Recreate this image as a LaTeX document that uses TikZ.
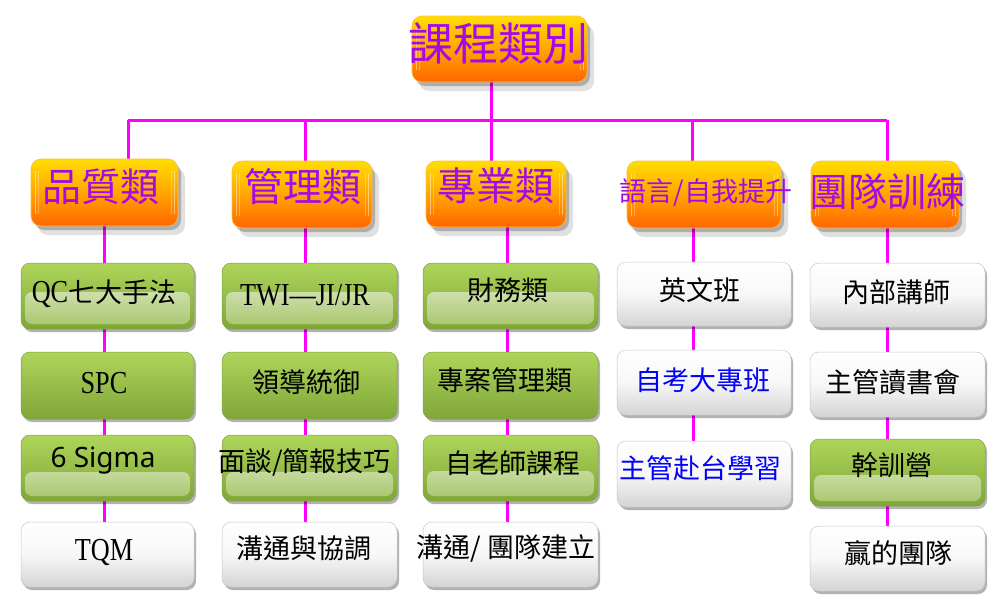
\documentclass[tikz,border=0pt]{standalone}
\usepackage{fontspec}
\setmainfont{Liberation Serif}
\newfontfamily\cjk{Noto Sans CJK TC}
\newfontfamily\segoe{Noto Sans}
\newfontfamily\narrowserif[FakeStretch=0.82]{Liberation Serif}
\usetikzlibrary{shadows,backgrounds}
\definecolor{mag}{RGB}{255,0,255}
\definecolor{purp}{RGB}{165,10,230}
\definecolor{orT}{RGB}{255,222,0}
\definecolor{orM}{RGB}{255,165,0}
\definecolor{orB}{RGB}{255,102,0}
\definecolor{orE}{RGB}{255,190,60}
\definecolor{grT}{RGB}{174,213,90}
\definecolor{grB}{RGB}{128,166,56}
\definecolor{grE}{RGB}{130,160,70}
\definecolor{glT}{RGB}{236,242,224}
\definecolor{glB}{RGB}{166,197,104}
\definecolor{blu}{RGB}{0,0,255}
\tikzset{
  conn/.style={draw=mag, line width=3pt},
  orbox/.style={rounded corners=10pt, draw=orE, line width=.6pt, inner sep=0pt,
    top color=orT, bottom color=orB, middle color=orM,
    drop shadow={shadow xshift=3pt, shadow yshift=-4pt, opacity=.22, fill=black},
    drop shadow={shadow xshift=7pt, shadow yshift=-9pt, opacity=.12, fill=black},
    path picture={
      \foreach \s/\o in {4pt/.45, 7pt/.3}{
        \draw[white, opacity=\o, line width=.8pt]
          ([xshift=\s, yshift=-12pt]path picture bounding box.north west) --
          ([xshift=\s, yshift=12pt]path picture bounding box.south west);
        \draw[white, opacity=\o, line width=.8pt]
          ([xshift=-\s, yshift=-12pt]path picture bounding box.north east) --
          ([xshift=-\s, yshift=12pt]path picture bounding box.south east);
      }}},
  grbox/.style={rounded corners=9pt, draw=grE, line width=.5pt, inner sep=0pt,
    top color=grT, bottom color=grB,
    drop shadow={shadow xshift=2pt, shadow yshift=-3pt, opacity=.3, fill=black}},
  gloss/.style={path picture={
      \shade[rounded corners=7pt, top color=glT, bottom color=glB]
        ([xshift=4pt, yshift=5pt]path picture bounding box.south west) rectangle
        ([xshift=-4pt, yshift=-#1]path picture bounding box.north east);}},
  whbox/.style={rounded corners=9pt, draw=gray!45, line width=.5pt, inner sep=0pt,
    top color=white, bottom color=black!17, middle color=white!97!black,
    drop shadow={shadow xshift=2pt, shadow yshift=-3pt, opacity=.3, fill=black}},
  titletxt/.style={text=purp, inner sep=0pt, font=\cjk\fontsize{45}{46}\selectfont},
  cattxt/.style={text=purp, inner sep=0pt, font=\cjk\fontsize{39}{40}\selectfont},
  smcattxt/.style={text=purp, inner sep=0pt, font=\cjk\fontsize{27}{28}\selectfont},
  itemtxt/.style={inner sep=0pt, font=\narrowserif\fontsize{32}{33}\selectfont},
  citemtxt/.style={inner sep=0pt, font=\cjk\fontsize{27}{28}\selectfont},
}
\begin{document}
\begin{tikzpicture}[x=1pt, y=-1pt]
\useasboundingbox (0,0) rectangle (1005,606);

% title
\node[orbox, minimum width=175, minimum height=66] (top) at (499.5,49) {};
\node[titletxt] (topt) at (498,43) {課程類別};

% categories
\node[orbox, minimum width=147, minimum height=67] (q) at (104.5,192.5) {};
\node[orbox, minimum width=140, minimum height=67] (m) at (302,194.5) {};
\node[orbox, minimum width=140, minimum height=66] (p) at (496,194) {};
\node[orbox, minimum width=154, minimum height=67] (l) at (704,194.5) {};
\node[orbox, minimum width=148, minimum height=67] (t) at (885,194.5) {};
\node[cattxt] (qt) at (100.5,187) {品質類};
\node[cattxt] (mt) at (302.5,187) {管理類};
\node[cattxt] (pt) at (496,186) {專業類};
\node[smcattxt] (lt) at (706,193) {語言/自我提升};
\node[cattxt] (tt) at (887,192) {團隊訓練};

% column 1
\node[grbox, gloss=29pt, minimum width=173, minimum height=66] (q1) at (107.5,296) {};
\node[grbox, minimum width=173, minimum height=67] (q2) at (107.5,385.5) {};
\node[grbox, gloss=37pt, minimum width=173, minimum height=66] (q3) at (107.5,468) {};
\node[whbox, minimum width=173, minimum height=65] (q4) at (107.5,554.5) {};
\node[itemtxt] (q1t) at (104,294) {QC{\cjk\fontsize{27}{28}\selectfont 七大手法}};
\node[itemtxt] (q2t) at (104,383) {SPC};
\node[itemtxt, font=\segoe\fontsize{28}{29}\selectfont] (q3t) at (103,461) {6 Sigma};
\node[itemtxt] (q4t) at (104,552) {TQM};

% column 2
\node[grbox, gloss=29pt, minimum width=175, minimum height=66] (m1) at (309.5,296) {};
\node[grbox, minimum width=175, minimum height=67] (m2) at (309.5,385.5) {};
\node[grbox, gloss=37pt, minimum width=175, minimum height=66] (m3) at (309.5,468) {};
\node[whbox, minimum width=175, minimum height=65] (m4) at (309.5,554.5) {};
\node[itemtxt] (m1t) at (305,295) {TWI—JI/JR};
\node[citemtxt] (m2t) at (306,382) {領導統御};
\node[citemtxt] (m3t) at (304.5,462) {面談/簡報技巧};
\node[citemtxt] (m4t) at (304,548) {溝通與協調};

% column 3
\node[grbox, gloss=29pt, minimum width=175, minimum height=66] (p1) at (510.5,296) {};
\node[grbox, minimum width=175, minimum height=67] (p2) at (510.5,385.5) {};
\node[grbox, gloss=36pt, minimum width=175, minimum height=66] (p3) at (510.5,468) {};
\node[whbox, minimum width=175, minimum height=65] (p4) at (510.5,554.5) {};
\node[citemtxt] (p1t) at (508,290) {財務類};
\node[citemtxt] (p2t) at (505,380) {專案管理類};
\node[citemtxt] (p3t) at (513,463) {自老師課程};
\node[citemtxt] (p4t) at (506,548) {溝通/ 團隊建立};

% column 4
\node[whbox, minimum width=174, minimum height=64] (l1) at (704,294) {};
\node[whbox, minimum width=174, minimum height=65] (l2) at (704,382.5) {};
\node[whbox, minimum width=174, minimum height=66] (l3) at (704,474) {};
\node[citemtxt] (l1t) at (700,290) {英文班};
\node[citemtxt, text=blu] (l2t) at (703,380) {自考大專班};
\node[citemtxt, text=blu] (l3t) at (700,468) {主管赴台學習};

% column 5
\node[whbox, minimum width=175, minimum height=64] (t1) at (897.5,295) {};
\node[whbox, minimum width=175, minimum height=65] (t2) at (897.5,384.5) {};
\node[grbox, gloss=36pt, minimum width=175, minimum height=67] (t3) at (897.5,472.5) {};
\node[whbox, minimum width=175, minimum height=65] (t4) at (897.5,558.5) {};
\node[citemtxt] (t1t) at (896,292) {內部講師};
\node[citemtxt] (t2t) at (893,382) {主管讀書會};
\node[citemtxt] (t3t) at (892,465) {幹訓營};
\node[citemtxt] (t4t) at (898,553) {贏的團隊};

% connectors (behind the boxes)
\begin{scope}[on background layer]
\fill[white] (0,0) rectangle (1005,606);
\coordinate (hub) at (491,120);
\coordinate (h1) at (128,120);
\coordinate (h2) at (305,120);
\coordinate (h3) at (491,120);
\coordinate (h4) at (692,120);
\coordinate (h5) at (887,120);
\coordinate (x1) at (104,0);
\coordinate (x2) at (305,0);
\coordinate (x3) at (507,0);
\coordinate (x4) at (693,0);
\coordinate (x5) at (887,0);
\draw[conn] (hub |- top.south) -- (hub);
\draw[conn] (h1) -- (h5);
\draw[conn] (h1) -- (h1 |- q.north);
\draw[conn] (h2) -- (h2 |- m.north);
\draw[conn] (h3) -- (h3 |- p.north);
\draw[conn] (h4) -- (h4 |- l.north);
\draw[conn] (h5) -- (h5 |- t.north);
\draw[conn] (x1 |- q.south) -- (x1 |- q1.north);
\draw[conn] (x1 |- q1.south) -- (x1 |- q2.north);
\draw[conn] (x1 |- q2.south) -- (x1 |- q3.north);
\draw[conn] (x1 |- q3.south) -- (x1 |- q4.north);
\draw[conn] (x2 |- m.south) -- (x2 |- m1.north);
\draw[conn] (x2 |- m1.south) -- (x2 |- m2.north);
\draw[conn] (x2 |- m2.south) -- (x2 |- m3.north);
\draw[conn] (x2 |- m3.south) -- (x2 |- m4.north);
\draw[conn] (x3 |- p.south) -- (x3 |- p1.north);
\draw[conn] (x3 |- p1.south) -- (x3 |- p2.north);
\draw[conn] (x3 |- p2.south) -- (x3 |- p3.north);
\draw[conn] (x3 |- p3.south) -- (x3 |- p4.north);
\draw[conn] (x4 |- l.south) -- (x4 |- l1.north);
\draw[conn] (x4 |- l1.south) -- (x4 |- l2.north);
\draw[conn] (x4 |- l2.south) -- (x4 |- l3.north);
\draw[conn] (x5 |- t.south) -- (x5 |- t1.north);
\draw[conn] (x5 |- t1.south) -- (x5 |- t2.north);
\draw[conn] (x5 |- t2.south) -- (x5 |- t3.north);
\draw[conn] (x5 |- t3.south) -- (x5 |- t4.north);
\end{scope}
\end{tikzpicture}
\end{document}
